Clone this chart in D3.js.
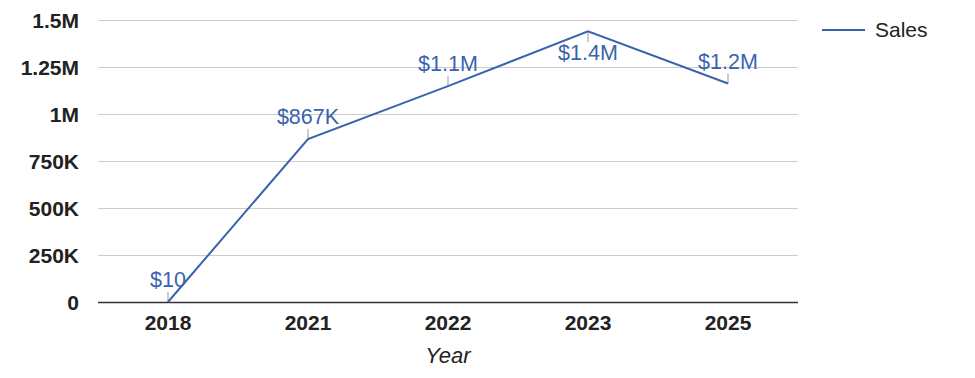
<!DOCTYPE html>
<html>
<head>
<meta charset="utf-8">
<script src="https://cdn.jsdelivr.net/npm/d3@7"></script>
<style>
  body { margin: 0; background: #fff; }
  svg { display: block; font-family: "Liberation Sans", Arial, sans-serif; }
</style>
</head>
<body>
<svg id="chart" width="975" height="378"></svg>
<script>
// Data
const years = ["2018", "2021", "2022", "2023", "2025"];
const sales = [10, 867000, 1148000, 1440000, 1162000];
const salesLabels = ["$10", "$867K", "$1.1M", "$1.4M", "$1.2M"];
const yTicks = [0, 250000, 500000, 750000, 1000000, 1250000, 1500000];
const yTickLabels = ["0", "250K", "500K", "750K", "1M", "1.25M", "1.5M"];

const margin = { top: 20, right: 177, bottom: 76, left: 98 };
const W = 975, H = 378;

const svg = d3.select("#chart");

const x = d3.scaleBand()
    .domain(years)
    .range([margin.left, W - margin.right]);

const y = d3.scaleLinear()
    .domain([0, 1500000])
    .range([H - margin.bottom, margin.top]);

// Gridlines
svg.append("g")
    .selectAll("line")
    .data(yTicks.slice(1))
    .enter().append("line")
    .attr("x1", margin.left)
    .attr("x2", W - margin.right)
    .attr("y1", d => Math.round(y(d)) + 0.5)
    .attr("y2", d => Math.round(y(d)) + 0.5)
    .attr("stroke", "#cccccc");

// Y axis labels
const yAxis = svg.append("g")
    .attr("transform", `translate(${margin.left}, 0)`)
    .call(d3.axisLeft(y).tickValues(yTicks).tickSize(0).tickPadding(19)
        .tickFormat((d, i) => yTickLabels[i]));
yAxis.select(".domain").remove();
yAxis.selectAll("text")
    .attr("dy", "0.35em")
    .style("font-size", "21px")
    .style("font-weight", "bold")
    .style("fill", "#222")
    .style("font-family", "Liberation Sans, Arial, sans-serif");

// X axis
const xAxis = svg.append("g")
    .attr("transform", `translate(0, ${H - margin.bottom})`)
    .call(d3.axisBottom(x).tickSize(0).tickPadding(13));
xAxis.select(".domain").remove();
xAxis.selectAll("text")
    .style("font-size", "21px")
    .style("font-weight", "bold")
    .style("fill", "#222")
    .style("font-family", "Liberation Sans, Arial, sans-serif");

// Baseline
svg.append("line")
    .attr("x1", margin.left)
    .attr("x2", W - margin.right)
    .attr("y1", Math.round(y(0)) + 0.5)
    .attr("y2", Math.round(y(0)) + 0.5)
    .attr("stroke", "#333")
    .attr("stroke-width", 1.5);

// X axis title
svg.append("text")
    .attr("x", (margin.left + W - margin.right) / 2)
    .attr("y", 363)
    .attr("text-anchor", "middle")
    .style("font-size", "22px")
    .style("font-style", "italic")
    .style("fill", "#222")
    .text("Year");

const pts = years.map((yr, i) => ({ yr, v: sales[i], label: salesLabels[i] }));
const cx = d => x(d.yr) + x.bandwidth() / 2;
const maxV = d3.max(sales);

// Leader ticks for labels
svg.append("g")
    .selectAll("line")
    .data(pts)
    .enter().append("line")
    .attr("x1", cx).attr("x2", cx)
    .attr("y1", d => y(d.v))
    .attr("y2", d => d.v === maxV ? y(d.v) + 11 : y(d.v) - 10)
    .attr("stroke", "#999")
    .attr("stroke-width", 1);

// Line
const line = d3.line()
    .x(cx)
    .y(d => y(d.v));

svg.append("path")
    .datum(pts)
    .attr("fill", "none")
    .attr("stroke", "#3a63ad")
    .attr("stroke-width", 2)
    .attr("d", line);

// Value labels
svg.append("g")
    .selectAll("text")
    .data(pts)
    .enter().append("text")
    .attr("x", cx)
    .attr("y", d => d.v === maxV ? y(d.v) + 29 : y(d.v) - 15)
    .attr("text-anchor", "middle")
    .style("font-size", "21.5px")
    .style("fill", "#3a63ad")
    .text(d => d.label);

// Legend
svg.append("line")
    .attr("x1", 822).attr("x2", 865)
    .attr("y1", 30).attr("y2", 30)
    .attr("stroke", "#3a63ad")
    .attr("stroke-width", 2);
svg.append("text")
    .attr("x", 875)
    .attr("y", 37)
    .style("font-size", "21px")
    .style("fill", "#222")
    .text("Sales");
</script>
</body>
</html>
